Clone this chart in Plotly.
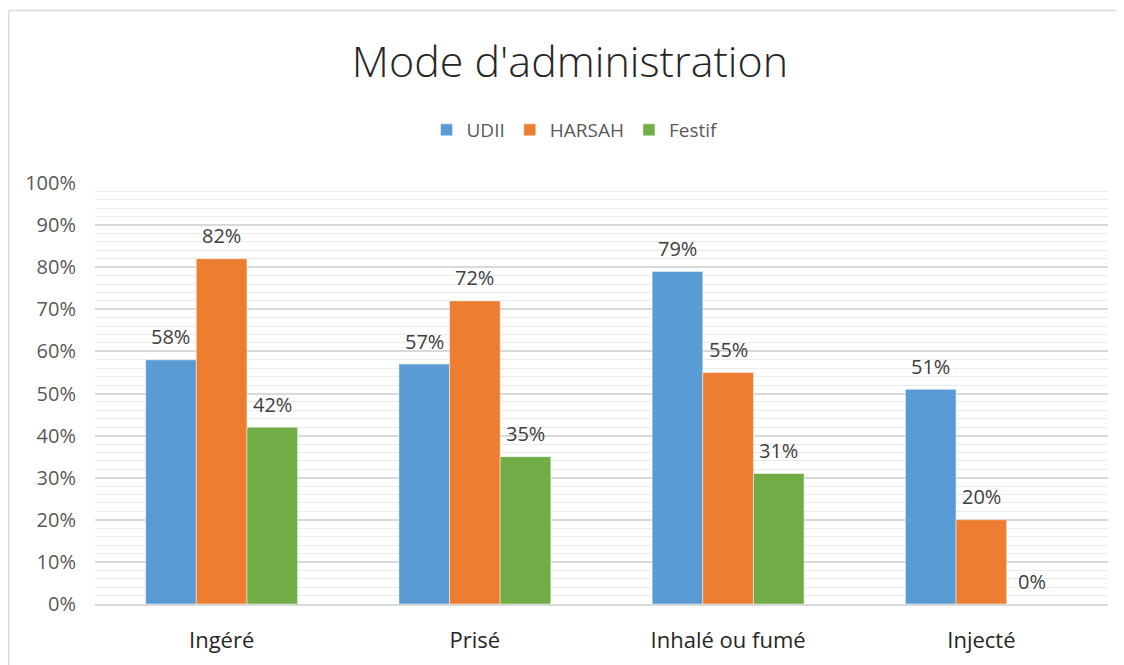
import plotly.graph_objects as go

categories = ["Ingéré", "Prisé", "Inhalé ou fumé", "Injecté"]
udii = [58, 57, 79, 51]
harsah = [82, 72, 55, 20]
festif = [42, 35, 31, 0]
series_names = ["UDII", "HARSAH", "Festif"]
colors = ["#5B9BD5", "#ED7D31", "#70AD47"]
y_ticks = [0, 10, 20, 30, 40, 50, 60, 70, 80, 90, 100]
y_ticktext = [f"{t}%" for t in y_ticks]

FONT = "Open Sans"
series = [udii, harsah, festif]

# page body has an 8px margin: figure is sized so it fills the window
W, H = 1116, 657
OFF = 8

fig = go.Figure()
for name, vals, col in zip(series_names, series, colors):
    fig.add_trace(go.Bar(
        x=list(range(len(categories))), y=vals, name=name,
        marker=dict(color=col, line=dict(color="rgba(255,255,255,0.6)", width=0.8)),
    ))

bar_w = 0.2
for si, vals in enumerate(series):
    off = (si - 1) * bar_w
    for ci, v in enumerate(vals):
        fig.add_annotation(
            x=ci + off, y=v, xref="x", yref="y", text=f"{v}%",
            showarrow=False, yanchor="middle", yshift=23,
            font=dict(family=FONT, size=20, color="#404040"),
        )

l, t = 95 - OFF, 183 - OFF
r = W - (1108 - OFF)
b = H - (604 - OFF)
pw = W - l - r
ph = H - t - b
bx = (0.5 - l) / pw
by = (H - 2.5 - b) / ph
fig.add_shape(type="line", xref="paper", yref="paper", x0=bx, x1=bx, y0=-1, y1=by,
              line=dict(color="#d9d9d9", width=1.5))
fig.add_shape(type="line", xref="paper", yref="paper", x0=bx, x1=1.1, y0=by, y1=by,
              line=dict(color="#d9d9d9", width=1.5))

fig.update_layout(
    width=W, height=H,
    margin=dict(l=l, r=r, t=t, b=b),
    paper_bgcolor="white", plot_bgcolor="white",
    barmode="group", bargap=0.4, bargroupgap=0,
    title=dict(text="Mode d'administration", xref="container", x=(570 - OFF) / W, xanchor="center",
               yref="container", y=1 - (62 - OFF) / H, yanchor="middle",
               font=dict(family=FONT, size=43, color="#262626", weight=300)),
    legend=dict(orientation="h", xref="container", x=(575 - OFF) / W, xanchor="center",
                yref="container", y=1 - (130 - OFF) / H, yanchor="middle",
                font=dict(family=FONT, size=19, color="#595959"),
                traceorder="normal"),
    font=dict(family=FONT),
)
fig.update_xaxes(
    tickmode="array", tickvals=list(range(len(categories))), ticktext=categories,
    range=[-0.5, len(categories) - 0.5],
    showline=True, linecolor="#d9d9d9", linewidth=1.5,
    showgrid=False, ticks="", ticklabelstandoff=16,
    tickfont=dict(family=FONT, size=22, color="#262626"),
)
fig.update_yaxes(
    range=[0, 100], tickmode="array", tickvals=y_ticks, ticktext=y_ticktext,
    showgrid=True, gridcolor="#d9d9d9", gridwidth=1.5,
    minor=dict(dtick=2, showgrid=True, gridcolor="#ebebeb", gridwidth=1),
    zeroline=False, showline=False, ticks="", ticklabelstandoff=18,
    tickfont=dict(family=FONT, size=20, color="#595959"),
)

fig.write_html("out.html")
